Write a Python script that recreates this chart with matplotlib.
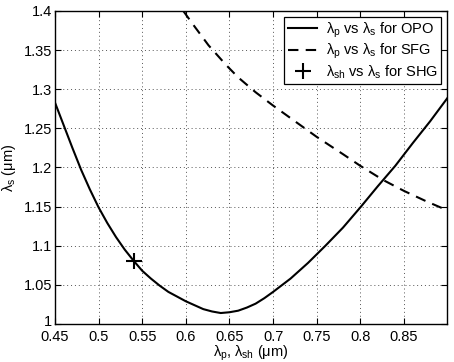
import matplotlib
matplotlib.use("Agg")
import matplotlib.pyplot as plt
import matplotlib.transforms as mtransforms

plt.rcParams['font.family'] = ['Liberation Sans', 'DejaVu Sans']
plt.rcParams['mathtext.fontset'] = 'custom'
plt.rcParams['mathtext.rm'] = 'Liberation Sans'
plt.rcParams['mathtext.it'] = 'Liberation Sans'

# OPO curve: lambda_p vs lambda_s
opo_x = [0.45, 0.46, 0.47, 0.48, 0.49, 0.50, 0.51, 0.52, 0.53, 0.54, 0.55,
         0.56, 0.57, 0.58, 0.59, 0.60, 0.61, 0.62, 0.63, 0.64, 0.65, 0.66,
         0.67, 0.68, 0.69, 0.70, 0.72, 0.74, 0.76, 0.78, 0.80, 0.82, 0.84,
         0.86, 0.88, 0.90]
opo_y = [1.283, 1.254, 1.225, 1.197, 1.172, 1.149, 1.129, 1.111, 1.095, 1.081, 1.068,
         1.058, 1.049, 1.041, 1.035, 1.029, 1.024, 1.019, 1.016, 1.014, 1.015, 1.017,
         1.021, 1.026, 1.033, 1.041, 1.058, 1.078, 1.100, 1.123, 1.149, 1.176, 1.202,
         1.231, 1.259, 1.289]

# SFG curve
sfg_x = [0.597, 0.61, 0.626, 0.646, 0.66, 0.68, 0.70, 0.73, 0.75, 0.78, 0.80,
         0.826, 0.85, 0.875, 0.90]
sfg_y = [1.400, 1.380, 1.356, 1.331, 1.315, 1.296, 1.279, 1.255, 1.239, 1.217, 1.202,
         1.184, 1.170, 1.157, 1.145]

# SHG point
shg_x = [0.541]
shg_y = [1.080]

xticks = [0.45, 0.5, 0.55, 0.6, 0.65, 0.7, 0.75, 0.8, 0.85]
xticklabels = ['0.45', '0.5', '0.55', '0.6', '0.65', '0.7', '0.75', '0.8', '0.85']
yticks = [1.0, 1.05, 1.1, 1.15, 1.2, 1.25, 1.3, 1.35, 1.4]
yticklabels = ['1', '1.05', '1.1', '1.15', '1.2', '1.25', '1.3', '1.35', '1.4']

fig = plt.figure(figsize=(4.54, 3.62), dpi=100)
ax = fig.add_axes([0.121, 0.105, 0.864, 0.865])

ax.plot(opo_x, opo_y, color='black', linewidth=1.5, linestyle='-',
        label=r'$\lambda_p$ vs $\lambda_s$ for OPO')
ax.plot(sfg_x, sfg_y, color='black', linewidth=1.5, linestyle=(0, (5, 3.5)),
        label=r'$\lambda_p$ vs $\lambda_s$ for SFG')
ax.plot(shg_x, shg_y, color='black', linestyle='none', marker='+',
        markersize=11, markeredgewidth=1.5,
        label=r'$\lambda_{sh}$ vs $\lambda_s$ for SHG')

ax.set_xlim(0.45, 0.8995)
ax.set_ylim(1.0, 1.4)
ax.set_xticks(xticks)
ax.set_xticklabels(xticklabels)
ax.set_yticks(yticks)
ax.set_yticklabels(yticklabels)
ax.tick_params(direction='in', top=True, right=True, labelsize=10.5, length=4)
ax.tick_params(axis='x', pad=4)
ax.tick_params(axis='y', pad=2)
ax.grid(True, linestyle=(0, (1, 3)), color='#555555', linewidth=0.7)

# nudge the bottom y label "1" up a little so it does not collide with "0.45"
lbl = ax.get_yticklabels()[0]
lbl.set_transform(lbl.get_transform() +
                  mtransforms.ScaledTranslation(0, 3 / 100, fig.dpi_scale_trans))

for s in ax.spines.values():
    s.set_linewidth(1.0)

ax.set_xlabel(r'$\lambda_p$, $\lambda_{sh}$ ($\mu$m)', fontsize=10.5, labelpad=0)
ax.set_ylabel(r'$\lambda_s$ ($\mu$m)', fontsize=10.5, labelpad=4)

leg = ax.legend(loc='upper right', fontsize=10.5, frameon=True, fancybox=False,
                edgecolor='black', framealpha=1, borderpad=0.25,
                handlelength=2.0, handletextpad=0.6, labelspacing=0.15,
                borderaxespad=0.4)
leg.get_frame().set_linewidth(0.9)

fig.savefig('out.png', dpi=100)
